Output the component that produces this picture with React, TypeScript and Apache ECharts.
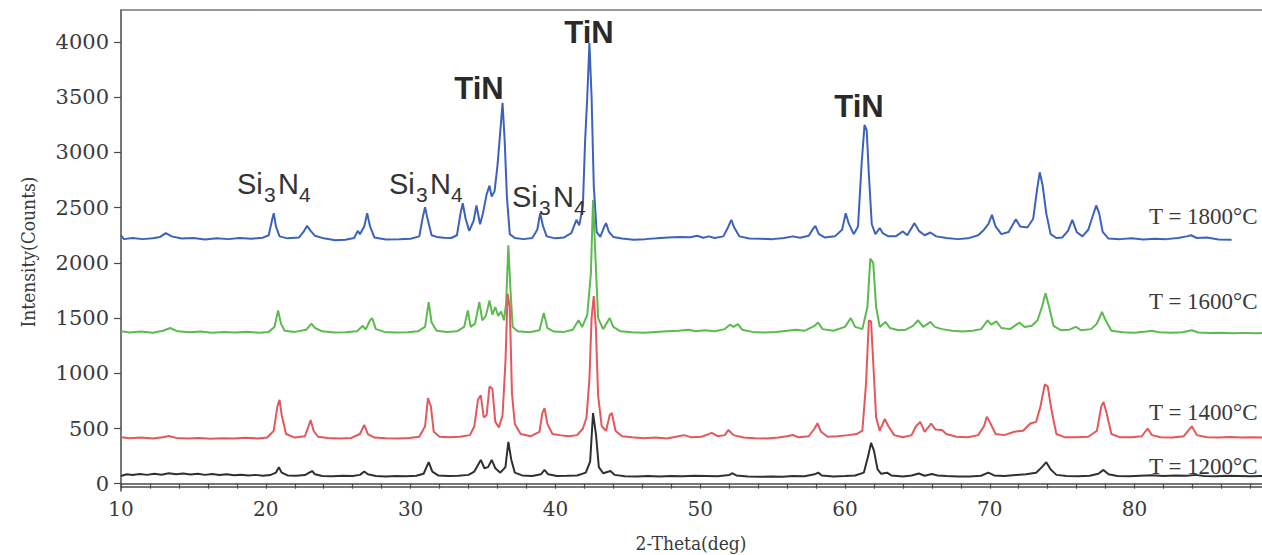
import React, { useEffect, useRef } from "react";
import * as echarts from "echarts";

// ---- data (2-Theta deg, Intensity counts) ----
const blue1800: [number, number][] = [
  [10.0, 2250], [10.2, 2215], [10.8, 2225], [11.5, 2215], [12.2, 2222], [12.7, 2235], [13.1, 2270], [13.5, 2240], [14.2, 2220], [15.0, 2225],
  [15.8, 2212], [16.6, 2222], [17.4, 2215], [18.2, 2225], [19.0, 2218], [19.8, 2228], [20.2, 2250], [20.45, 2400], [20.55, 2450], [20.7, 2330],
  [20.95, 2240], [21.5, 2222], [22.3, 2230], [22.6, 2280], [22.85, 2335], [23.1, 2290], [23.4, 2245], [24.0, 2222], [24.8, 2205], [25.5, 2210],
  [26.1, 2225], [26.35, 2290], [26.5, 2260], [26.8, 2330], [27.0, 2450], [27.2, 2330], [27.5, 2230], [28.3, 2212], [29.2, 2215], [30.0, 2218],
  [30.6, 2240], [30.85, 2420], [31.0, 2505], [31.15, 2410], [31.45, 2250], [31.8, 2235], [32.3, 2228], [32.8, 2225], [33.2, 2250], [33.45, 2450],
  [33.6, 2540], [33.8, 2400], [34.05, 2290], [34.35, 2380], [34.55, 2520], [34.8, 2350], [35.0, 2450], [35.25, 2620], [35.45, 2700], [35.6, 2600],
  [35.8, 2650], [36.0, 2880], [36.2, 3200], [36.35, 3450], [36.5, 3100], [36.65, 2600], [36.85, 2260], [37.2, 2225], [37.8, 2215], [38.4, 2225],
  [38.75, 2300], [38.95, 2450], [39.15, 2330], [39.4, 2240], [40.0, 2222], [40.6, 2230], [41.1, 2270], [41.45, 2390], [41.65, 2340], [41.9, 2520],
  [42.05, 3100], [42.2, 3500], [42.35, 3990], [42.5, 3500], [42.65, 2700], [42.85, 2280], [43.1, 2235], [43.35, 2320], [43.5, 2360], [43.7, 2280],
  [44.0, 2235], [44.6, 2220], [45.4, 2210], [46.2, 2215], [47.0, 2222], [47.8, 2230], [48.6, 2235], [49.3, 2232], [49.8, 2245], [50.2, 2228],
  [50.6, 2240], [51.0, 2225], [51.6, 2240], [51.95, 2330], [52.15, 2390], [52.35, 2320], [52.7, 2240], [53.4, 2220], [54.2, 2218], [55.0, 2215],
  [55.8, 2225], [56.4, 2240], [56.9, 2228], [57.5, 2245], [57.8, 2310], [57.95, 2335], [58.2, 2260], [58.6, 2230], [59.3, 2240], [59.8, 2300],
  [60.05, 2450], [60.25, 2360], [60.6, 2260], [60.9, 2330], [61.15, 2900], [61.35, 3250], [61.5, 3200], [61.65, 2800], [61.85, 2350], [62.1, 2260],
  [62.4, 2315], [62.6, 2270], [63.0, 2240], [63.5, 2240], [64.0, 2285], [64.3, 2250], [64.8, 2360], [65.1, 2290], [65.5, 2250], [65.9, 2275],
  [66.3, 2240], [67.0, 2225], [67.8, 2215], [68.5, 2222], [69.2, 2250], [69.6, 2300], [69.9, 2350], [70.15, 2435], [70.4, 2330], [70.8, 2260],
  [71.3, 2280], [71.8, 2395], [72.1, 2330], [72.6, 2320], [73.0, 2400], [73.25, 2650], [73.45, 2820], [73.65, 2700], [73.9, 2450], [74.2, 2260],
  [74.6, 2225], [75.0, 2230], [75.4, 2290], [75.7, 2390], [76.0, 2280], [76.4, 2240], [76.8, 2300], [77.1, 2420], [77.35, 2520], [77.55, 2450],
  [77.8, 2280], [78.2, 2220], [79.0, 2215], [79.8, 2222], [80.6, 2212], [81.4, 2218], [82.2, 2215], [83.0, 2225], [83.6, 2240], [83.9, 2250],
  [84.3, 2225], [85.0, 2230], [85.8, 2212], [86.7, 2210],
];

const green1600: [number, number][] = [
  [10.0, 1380], [10.6, 1370], [11.4, 1378], [12.2, 1368], [12.9, 1385], [13.4, 1410], [13.9, 1380], [14.7, 1372], [15.5, 1378], [16.3, 1368],
  [17.1, 1375], [17.9, 1370], [18.7, 1376], [19.5, 1368], [20.2, 1375], [20.6, 1420], [20.85, 1570], [21.05, 1450], [21.3, 1385], [22.0, 1375],
  [22.8, 1395], [23.15, 1450], [23.4, 1410], [23.9, 1380], [24.7, 1370], [25.5, 1372], [26.3, 1380], [26.7, 1430], [26.9, 1395], [27.2, 1480],
  [27.35, 1500], [27.6, 1400], [28.2, 1375], [29.0, 1370], [29.8, 1372], [30.5, 1380], [31.0, 1420], [31.25, 1645], [31.45, 1460], [31.8, 1385],
  [32.5, 1375], [33.2, 1380], [33.7, 1420], [33.95, 1570], [34.15, 1420], [34.45, 1450], [34.75, 1645], [34.95, 1480], [35.2, 1520], [35.45, 1660],
  [35.65, 1530], [35.85, 1600], [36.05, 1520], [36.25, 1560], [36.45, 1480], [36.6, 1640], [36.75, 2160], [36.9, 1750], [37.05, 1420], [37.4, 1380],
  [38.2, 1372], [38.9, 1390], [39.2, 1545], [39.45, 1410], [39.9, 1378], [40.6, 1375], [41.2, 1395], [41.6, 1480], [41.85, 1420], [42.2, 1530],
  [42.45, 1900], [42.6, 2570], [42.75, 2100], [42.95, 1500], [43.3, 1400], [43.75, 1500], [44.0, 1420], [44.5, 1380], [45.3, 1372], [46.1, 1368],
  [46.9, 1375], [47.7, 1380], [48.5, 1385], [49.2, 1395], [49.7, 1380], [50.3, 1390], [51.0, 1380], [51.7, 1400], [52.05, 1440], [52.3, 1420],
  [52.6, 1445], [52.9, 1395], [53.6, 1375], [54.4, 1370], [55.2, 1375], [56.0, 1385], [56.6, 1395], [57.2, 1385], [57.9, 1430], [58.15, 1460],
  [58.45, 1400], [59.2, 1385], [60.0, 1420], [60.4, 1500], [60.7, 1420], [61.2, 1400], [61.55, 1600], [61.75, 2040], [61.95, 2000], [62.15, 1600],
  [62.4, 1420], [62.8, 1465], [63.1, 1410], [63.7, 1390], [64.2, 1395], [64.7, 1430], [65.05, 1480], [65.4, 1420], [65.9, 1465], [66.2, 1420],
  [66.7, 1400], [67.4, 1385], [68.1, 1378], [68.8, 1385], [69.4, 1400], [69.85, 1480], [70.1, 1440], [70.45, 1470], [70.8, 1410], [71.4, 1400],
  [72.05, 1460], [72.4, 1420], [72.9, 1430], [73.3, 1480], [73.6, 1600], [73.85, 1725], [74.1, 1600], [74.4, 1430], [74.9, 1390], [75.5, 1395],
  [75.95, 1420], [76.3, 1390], [77.0, 1400], [77.4, 1450], [77.75, 1555], [78.0, 1480], [78.4, 1385], [79.2, 1372], [80.0, 1368], [80.8, 1378],
  [81.2, 1385], [81.7, 1372], [82.5, 1368], [83.3, 1372], [83.95, 1390], [84.4, 1370], [85.2, 1365], [86.0, 1368], [86.8, 1362], [87.6, 1366],
  [88.4, 1362], [89.0, 1365],
];

const red1400: [number, number][] = [
  [10.0, 420], [10.6, 412], [11.4, 418], [12.2, 410], [12.9, 420], [13.3, 432], [13.8, 415], [14.6, 410], [15.4, 415], [16.2, 408],
  [17.0, 412], [17.8, 410], [18.6, 416], [19.4, 410], [20.1, 418], [20.55, 480], [20.8, 700], [20.95, 760], [21.1, 620], [21.4, 450],
  [22.0, 418], [22.7, 430], [22.95, 520], [23.1, 577], [23.3, 480], [23.6, 425], [24.3, 415], [25.1, 410], [25.9, 415], [26.5, 450],
  [26.8, 532], [27.05, 450], [27.5, 418], [28.3, 412], [29.1, 410], [29.9, 415], [30.6, 425], [31.0, 520], [31.2, 776], [31.4, 700],
  [31.6, 470], [32.0, 425], [32.6, 420], [33.4, 425], [34.1, 440], [34.4, 520], [34.65, 760], [34.85, 800], [35.05, 600], [35.25, 620],
  [35.45, 880], [35.65, 860], [35.85, 560], [36.1, 510], [36.35, 620], [36.55, 1100], [36.7, 1720], [36.85, 1600], [37.0, 820], [37.2, 540],
  [37.6, 450], [38.3, 430], [38.9, 470], [39.1, 640], [39.25, 685], [39.45, 540], [39.8, 450], [40.3, 440], [40.9, 430], [41.5, 440],
  [41.9, 500], [42.15, 600], [42.35, 950], [42.5, 1500], [42.65, 1700], [42.8, 1400], [42.95, 800], [43.2, 520], [43.5, 480], [43.75, 620],
  [43.9, 640], [44.15, 480], [44.6, 430], [45.3, 420], [46.1, 412], [46.9, 418], [47.7, 410], [48.5, 430], [48.9, 440], [49.4, 420],
  [50.1, 425], [50.8, 460], [51.2, 430], [51.7, 440], [51.95, 487], [52.3, 440], [53.0, 418], [53.8, 412], [54.6, 410], [55.4, 418],
  [56.0, 430], [56.4, 441], [56.8, 420], [57.5, 430], [57.9, 500], [58.1, 548], [58.35, 470], [58.8, 425], [59.5, 430], [60.2, 440],
  [60.8, 450], [61.2, 480], [61.45, 900], [61.65, 1480], [61.8, 1470], [61.95, 1100], [62.15, 600], [62.4, 480], [62.75, 586], [63.0, 520],
  [63.4, 440], [64.0, 420], [64.6, 440], [64.9, 520], [65.2, 560], [65.5, 470], [65.95, 545], [66.25, 490], [66.7, 487], [67.0, 450],
  [67.7, 425], [68.5, 420], [69.2, 440], [69.6, 520], [69.8, 606], [70.0, 560], [70.4, 450], [71.0, 440], [71.7, 470], [72.3, 480],
  [72.8, 545], [73.2, 560], [73.5, 700], [73.8, 900], [74.0, 880], [74.3, 640], [74.6, 450], [75.2, 420], [76.0, 420], [76.8, 425],
  [77.4, 480], [77.7, 700], [77.85, 740], [78.05, 650], [78.4, 450], [79.0, 420], [79.8, 420], [80.5, 430], [80.9, 500], [81.2, 440],
  [81.8, 420], [82.6, 418], [83.4, 430], [83.95, 520], [84.3, 440], [85.0, 420], [85.8, 418], [86.6, 422], [87.4, 418], [88.2, 420],
  [89.0, 418],
];

const black1200: [number, number][] = [
  [10.0, 70], [10.4, 85], [10.8, 78], [11.3, 88], [11.8, 80], [12.3, 90], [12.8, 82], [13.3, 95], [13.8, 86], [14.3, 92],
  [14.8, 84], [15.3, 90], [15.8, 80], [16.3, 88], [16.8, 78], [17.3, 85], [17.8, 76], [18.3, 82], [18.8, 74], [19.3, 80],
  [19.8, 72], [20.3, 78], [20.7, 100], [20.9, 150], [21.1, 100], [21.5, 75], [22.1, 72], [22.7, 78], [23.0, 100], [23.2, 115],
  [23.4, 85], [23.9, 70], [24.6, 68], [25.3, 72], [26.0, 70], [26.5, 80], [26.8, 110], [27.05, 85], [27.6, 70], [28.3, 66],
  [29.0, 70], [29.7, 68], [30.4, 72], [30.9, 90], [31.25, 195], [31.5, 110], [31.9, 75], [32.6, 70], [33.3, 72], [34.0, 80],
  [34.4, 110], [34.85, 215], [35.1, 140], [35.35, 150], [35.6, 215], [35.85, 140], [36.2, 100], [36.55, 150], [36.75, 378], [36.95, 220],
  [37.2, 100], [37.7, 75], [38.4, 70], [39.0, 85], [39.25, 125], [39.5, 85], [40.1, 70], [40.8, 72], [41.5, 75], [42.1, 100],
  [42.4, 200], [42.6, 640], [42.8, 450], [43.0, 150], [43.3, 95], [43.8, 115], [44.1, 80], [44.8, 68], [45.6, 65], [46.4, 70],
  [47.2, 66], [48.0, 70], [48.8, 68], [49.6, 72], [50.4, 70], [51.2, 68], [52.0, 78], [52.2, 95], [52.5, 75], [53.3, 66],
  [54.1, 62], [54.9, 66], [55.7, 64], [56.4, 70], [57.2, 68], [57.9, 85], [58.15, 100], [58.4, 75], [59.2, 65], [60.0, 70],
  [60.7, 75], [61.3, 100], [61.6, 250], [61.8, 370], [62.0, 300], [62.25, 130], [62.5, 90], [62.9, 100], [63.2, 75], [64.0, 66],
  [64.6, 75], [65.1, 92], [65.5, 72], [66.0, 88], [66.4, 75], [67.0, 70], [67.8, 65], [68.6, 66], [69.4, 72], [69.9, 100],
  [70.3, 75], [71.0, 70], [71.8, 78], [72.5, 85], [73.2, 100], [73.6, 150], [73.9, 195], [74.2, 130], [74.6, 80], [75.3, 70],
  [76.1, 68], [76.9, 72], [77.5, 90], [77.85, 125], [78.2, 85], [78.8, 70], [79.6, 68], [80.4, 72], [81.2, 76], [82.0, 70],
  [82.8, 74], [83.6, 72], [84.2, 80], [84.8, 70], [85.6, 68], [86.4, 72], [87.2, 70], [88.0, 68], [89.0, 70],
];

const seriesNames = ["T = 1800°C", "T = 1600°C", "T = 1400°C", "T = 1200°C"];
const seriesColors = ["#3d62bd", "#5bbb4e", "#e4575c", "#303030"];
const yTickValues = [0, 500, 1000, 1500, 2000, 2500, 3000, 3500, 4000];
const xLabelValues = [10, 20, 30, 40, 50, 60, 70, 80];
const xTickValues = [10, 12, 14, 16, 18, 20, 22, 24, 26, 28, 30, 32, 34, 36, 38, 40, 42, 44, 46, 48, 50, 52, 54, 56, 58, 60, 62, 64, 66, 68, 70, 72, 74, 76, 78, 80, 82, 84, 86, 88];

const SERIF = '"DejaVu Serif", serif';
const SERIF_COND = '"DejaVu Serif Condensed", "DejaVu Serif", serif';
const SERIF_NARROW = '"Liberation Serif", "Times New Roman", serif';
const SANS = '"Liberation Sans", Arial, sans-serif';
const TEXT = "#3a3a3a";
const AXIS = "#4a4a4a";

function si3n4(x: number, y: number) {
  const main = { font: `29px ${SANS}`, fill: "#333", verticalAlign: "middle", align: "left" };
  const sub = { font: `21px ${SANS}`, fill: "#333", verticalAlign: "middle", align: "left" };
  return [
    { type: "text", x, y, style: { ...main, text: "Si" }, z: 50 },
    { type: "text", x: x + 27, y: y + 10.5, style: { ...sub, text: "3" }, z: 50 },
    { type: "text", x: x + 41, y, style: { ...main, text: "N" }, z: 50 },
    { type: "text", x: x + 62, y: y + 10.5, style: { ...sub, text: "4" }, z: 50 },
  ];
}

function tin(cx: number, cy: number) {
  return {
    type: "text", x: cx, y: cy, z: 50,
    style: { text: "TiN", font: `bold 31px ${SANS}`, fill: "#2a2a2a", align: "center", verticalAlign: "middle" },
  };
}

const tLabelY = [216, 301, 412, 466];

export default function App() {
  const ref = useRef<HTMLDivElement>(null);
  useEffect(() => {
    const chart = echarts.init(ref.current!, null, { renderer: "svg" });
    const dataSets = [blue1800, green1600, red1400, black1200];
    const option: any = {
      animation: false,
      backgroundColor: "#ffffff",
      textStyle: { fontFamily: SERIF },
      grid: { left: 121, right: 0, top: 10, bottom: 64, containLabel: false },
      xAxis: [
        {
          type: "value", min: 10, max: 88.8, position: "bottom",
          axisLine: { show: true, lineStyle: { color: AXIS, width: 1.5 } },
          axisTick: { show: true, length: 5, customValues: xTickValues, lineStyle: { color: AXIS, width: 1.2 } },
          axisLabel: { customValues: xLabelValues, margin: 8, fontSize: 20, color: TEXT, fontFamily: SERIF, formatter: (v: number) => String(v) },
          splitLine: { show: false },
        },
        {
          type: "value", min: 10, max: 88.8, position: "bottom", offset: -4,
          axisLine: { show: true, lineStyle: { color: AXIS, width: 1.5 } },
          axisTick: { show: false }, axisLabel: { show: false }, splitLine: { show: false },
        },
        {
          type: "value", min: 10, max: 88.8, position: "top",
          axisLine: { show: true, lineStyle: { color: "#777", width: 1.5 } },
          axisTick: { show: false }, axisLabel: { show: false }, splitLine: { show: false },
        },
      ],
      yAxis: {
        type: "value", min: -66, max: 4290,
        axisLine: { show: true, lineStyle: { color: AXIS, width: 1.5 } },
        axisTick: { show: true, length: 7, customValues: yTickValues, lineStyle: { color: AXIS, width: 1.2 } },
        axisLabel: { customValues: yTickValues, margin: 12, fontSize: 21, color: TEXT, fontFamily: SERIF, formatter: (v: number) => String(v) },
        splitLine: { show: false },
      },
      series: dataSets.map((d, i) => ({
        name: seriesNames[i],
        type: "line",
        xAxisIndex: 0,
        data: d,
        showSymbol: false,
        symbol: "none",
        lineStyle: { color: seriesColors[i], width: 2 },
        z: 2 + i,
      })),
      graphic: [
        {
          type: "text", x: 28, y: 252, rotation: Math.PI / 2, z: 50,
          style: { text: "Intensity(Counts)", font: `19px ${SERIF_COND}`, fill: TEXT, align: "center", verticalAlign: "middle" },
        },
        {
          type: "text", x: 691, y: 543, z: 50,
          style: { text: "2-Theta(deg)", font: `19px ${SERIF_COND}`, fill: TEXT, align: "center", verticalAlign: "middle" },
        },
        ...si3n4(237, 184),
        ...si3n4(389, 184),
        ...si3n4(512, 197),
        tin(479, 88),
        tin(589, 32),
        tin(859, 106),
        ...seriesNames.map((n, i) => ({
          type: "text", x: 1149, y: tLabelY[i], z: 50,
          style: { text: n, font: `23px ${SERIF_NARROW}`, fill: TEXT, align: "left", verticalAlign: "middle" },
        })),
      ],
    };
    chart.setOption(option);
    return () => chart.dispose();
  }, []);
  return (
    <div
      ref={ref}
      style={{ position: "fixed", left: 0, top: 0, width: 1262, height: 555, background: "#fff" }}
    />
  );
}
